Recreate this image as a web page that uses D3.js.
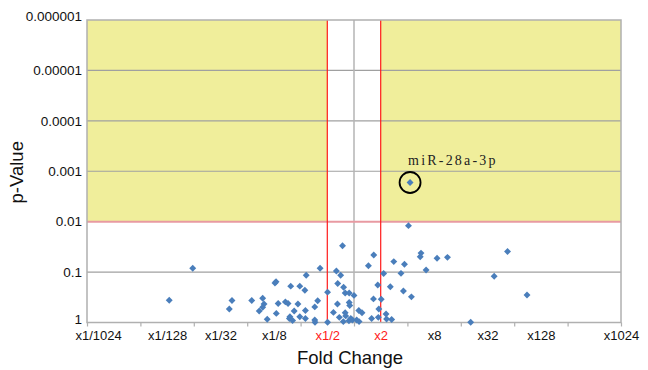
<!DOCTYPE html>
<html>
<head>
<meta charset="utf-8">
<script src="https://cdn.jsdelivr.net/npm/d3@7"></script>
<style>
  body { margin: 0; background: #fff; }
  text { font-family: "Liberation Sans", Arial, sans-serif; }
</style>
</head>
<body>
<div id="chart"></div>
<script>
// log2 fold change and p-value of each miRNA
var log2fc = [
  -6.92, -6.04, -4.57, -4.67, -3.83, -3.55, -3.42, -3.37, -3.42, -3.25,
  -2.92, -2.96, -2.84, -2.91, -2.57, -2.47, -2.37, -2.40, -2.42, -2.30,
  -2.24, -2.10, -2.03, -2.03, -1.84, -1.79, -1.82, -1.82, -1.47, -1.47,
  -1.46, -1.36, -1.27, -0.99, -0.99, -0.77, -0.66, -0.61, -0.62, -0.55,
  -0.50, -0.43, -0.39, -0.33, -0.33, -0.31, -0.40, -0.18, -0.18, -0.16,
  -0.12, -0.19, -0.06, 0.00, 0.10, 0.18, 0.30, 0.19, 0.54, 0.74,
  0.73, 0.93, 0.89, 0.91, 0.66, 1.02, 1.11, 1.20, 1.22, 1.36,
  1.41, 1.49, 1.76, 1.85, 1.89, 2.04, 2.15, 2.51, 2.48, 2.70,
  3.11, 3.50, 4.37, 5.25, 5.75, 6.48
];
var pvals = [
  0.363, 0.084, 0.366, 0.54, 0.366, 0.59, 0.33, 0.43, 0.50, 0.865,
  0.155, 0.165, 0.42, 0.66, 0.39, 0.42, 0.19, 0.77, 0.83, 0.91,
  0.59, 0.43, 0.19, 0.77, 0.23, 0.116, 0.58, 0.83, 0.49, 0.89,
  0.99, 0.37, 0.084, 0.25, 0.99, 0.63, 0.095, 0.168, 0.43, 0.79,
  0.116, 0.030, 0.20, 0.26, 0.64, 0.74, 0.96, 0.26, 0.40, 0.46,
  0.83, 0.92, 0.89, 0.29, 0.89, 0.58, 0.64, 0.96, 0.075, 0.046,
  0.34, 0.54, 0.18, 0.79, 0.83, 0.345, 0.107, 0.68, 0.85, 0.195,
  0.87, 0.062, 0.106, 0.237, 0.070, 0.012, 0.31, 0.042, 0.0495, 0.091,
  0.053, 0.051, 0.99, 0.121, 0.039, 0.285
];

// the one significant hit
var hitName = "miR-28a-3p";
var hitLog2fc = 2.10;
var hitP = 0.00167;

var xTickExp = [-10, -8, -6, -4, -2, 0, 2, 4, 6, 8, 10];
var xLabelExp = [-10, -7, -5, -3, -1, 1, 3, 5, 7, 10];
var xLabels = ["x1/1024", "x1/128", "x1/32", "x1/8", "x1/2", "x2", "x8", "x32", "x128", "x1024"];
var yTicks = [1, 0.1, 0.01, 0.001, 0.0001, 0.00001, 0.000001];
var yLabels = ["1", "0.1", "0.01", "0.001", "0.0001", "0.00001", "0.000001"];
var pCut = 0.01;
var fcCut = 2;

var svgWidth = 648;
var svgHeight = 370;
var margin = { top: 20, right: 27, bottom: 47.5, left: 87 };
var w = svgWidth - margin.left - margin.right;
var h = svgHeight - margin.top - margin.bottom;

var svg = d3.select("#chart")
    .append("svg")
    .attr("width", svgWidth)
    .attr("height", svgHeight);

var g = svg.append("g")
    .attr("transform", `translate(${margin.left}, ${margin.top})`);

var x = d3.scaleLog().base(2).domain([1 / 1024, 1024]).range([0, w]);
var y = d3.scaleLog().domain([1, 1e-6]).range([h, 0]);

var yellow = "#f0ee9b";
var grid = "#a0a0a0";
var red = "#ff1a1a";

// yellow significant areas
g.append("rect")
    .attr("x", x(1 / 1024)).attr("y", y(1e-6))
    .attr("width", x(1 / fcCut) - x(1 / 1024))
    .attr("height", y(pCut) - y(1e-6))
    .attr("fill", yellow);
g.append("rect")
    .attr("x", x(fcCut)).attr("y", y(1e-6))
    .attr("width", x(1024) - x(fcCut))
    .attr("height", y(pCut) - y(1e-6))
    .attr("fill", yellow);

// horizontal grid
g.selectAll(".hgrid")
    .data(yTicks.filter(d => d < 1 && d > 1e-6 && d != pCut))
    .enter().append("line")
    .attr("x1", 0).attr("x2", w)
    .attr("y1", d => y(d)).attr("y2", d => y(d))
    .attr("stroke", grid).attr("stroke-width", 1.2);

// centre line
g.append("line")
    .attr("x1", x(1)).attr("x2", x(1))
    .attr("y1", 0).attr("y2", h)
    .attr("stroke", "#b4b4b4").attr("stroke-width", 1.5);

// p = 0.01 threshold
g.append("line")
    .attr("x1", 0).attr("x2", w)
    .attr("y1", y(pCut)).attr("y2", y(pCut))
    .attr("stroke", "#e89aa2").attr("stroke-width", 2);

// fold change thresholds
g.selectAll(".vcut")
    .data([1 / fcCut, fcCut])
    .enter().append("line")
    .attr("x1", d => x(d)).attr("x2", d => x(d))
    .attr("y1", 0).attr("y2", h)
    .attr("stroke", red).attr("stroke-width", 1.2);

// plot border
g.append("rect")
    .attr("width", w).attr("height", h)
    .attr("fill", "none")
    .attr("stroke", "#b0b0b0").attr("stroke-width", 1.5);

// x tick marks
g.append("g")
    .attr("transform", `translate(0, ${h})`)
    .call(d3.axisBottom(x).tickValues(xTickExp.map(e => Math.pow(2, e))).tickSize(4).tickFormat(""))
    .call(a => a.select(".domain").remove())
    .call(a => a.selectAll("line").attr("stroke", "#b0b0b0").attr("stroke-width", 1.2));

// x labels
var xl = g.append("g")
    .attr("transform", `translate(0, ${h})`)
    .call(d3.axisBottom(x).tickValues(xLabelExp.map(e => Math.pow(2, e))).tickSize(0).tickPadding(8)
        .tickFormat((d, i) => xLabels[i]))
    .call(a => a.select(".domain").remove());
xl.selectAll("text")
    .style("font-size", "13px")
    .attr("fill", (d, i) => Math.abs(xLabelExp[i]) == 1 ? red : "#111")
    .attr("text-anchor", (d, i) => i == 0 ? "start" : "middle")
    .attr("dx", (d, i) => i == 0 ? -12 : 0);

// y labels
var yl = g.append("g")
    .call(d3.axisLeft(y).tickValues(yTicks).tickSize(0).tickPadding(5)
        .tickFormat((d, i) => yLabels[i]))
    .call(a => a.select(".domain").remove());
yl.selectAll("text")
    .style("font-size", "13.5px")
    .attr("fill", "#111")
    .attr("dy", (d, i) => (i == 0 || i == yTicks.length - 1) ? "0.05em" : "0.32em");

// points
var pts = log2fc.map((l, i) => ({ fc: Math.pow(2, l), p: pvals[i] }));
var diamond = d3.symbol().type(d3.symbolSquare).size(24);
g.selectAll(".pt")
    .data(pts)
    .enter().append("path")
    .attr("d", diamond)
    .attr("transform", d => `translate(${x(d.fc)}, ${y(d.p)}) rotate(45)`)
    .attr("fill", "#4a7ebb");

// highlighted point
var hx = x(Math.pow(2, hitLog2fc));
var hy = y(hitP);
g.append("path")
    .attr("d", diamond)
    .attr("transform", `translate(${hx}, ${hy}) rotate(45)`)
    .attr("fill", "#4a7ebb");
g.append("circle")
    .attr("cx", hx).attr("cy", hy).attr("r", 10.5)
    .attr("fill", "none").attr("stroke", "#000").attr("stroke-width", 1.8);
g.append("text")
    .attr("x", hx - 2).attr("y", hy - 17)
    .style("font-family", "'Liberation Serif', 'DejaVu Serif', serif")
    .style("font-size", "14px")
    .style("letter-spacing", "2.2px")
    .attr("fill", "#222")
    .text(hitName);

// axis titles
svg.append("text")
    .attr("x", margin.left + w / 2 - 4).attr("y", 364)
    .attr("text-anchor", "middle")
    .style("font-size", "18.5px")
    .attr("fill", "#111")
    .text("Fold Change");
svg.append("text")
    .attr("transform", `translate(23, ${margin.top + h / 2 + 1}) rotate(-90)`)
    .attr("text-anchor", "middle")
    .style("font-size", "18.5px")
    .attr("fill", "#111")
    .text("p-Value");
</script>
</body>
</html>
